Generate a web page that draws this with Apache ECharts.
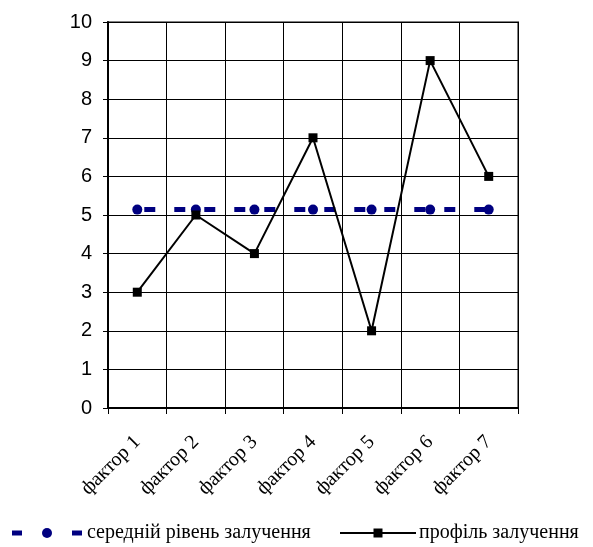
<!DOCTYPE html>
<html><head><meta charset="utf-8">
<script src="https://cdn.jsdelivr.net/npm/echarts@6/dist/echarts.min.js"></script>
<style>html,body{margin:0;padding:0;background:#fff}#c{width:593px;height:547px}</style>
</head><body><div id="c"></div>
<script>
const categories = ['фактор 1','фактор 2','фактор 3','фактор 4','фактор 5','фактор 6','фактор 7'];
const profile = [3,5,4,7,2,9,6];
const average = [5.14,5.14,5.14,5.14,5.14,5.14,5.14];
const yTicks = [0,1,2,3,4,5,6,7,8,9,10];
const seriesNames = ['середній рівень залучення','профіль залучення'];

const NAVY = '#000080';
const SERIF = "'Liberation Serif', 'Times New Roman', 'DejaVu Serif', serif";
const LY = 533;
const chart = echarts.init(document.getElementById('c'), null, {renderer:'canvas'});
chart.setOption({
  animation:false,
  backgroundColor:'#fff',
  grid:{left:108,right:75,top:22,bottom:139,show:true,borderColor:'#808080',borderWidth:2,backgroundColor:'transparent'},
  xAxis:{type:'category',data:categories,boundaryGap:true,
    axisLine:{lineStyle:{color:'#000',width:2}},
    axisTick:{show:true,length:6,inside:false,lineStyle:{color:'#000'}},
    splitLine:{show:true,lineStyle:{color:'#000',width:1}},
    axisLabel:{rotate:45,margin:31,fontFamily:SERIF,fontSize:20,color:'#000'}},
  yAxis:{type:'value',min:yTicks[0],max:yTicks[yTicks.length-1],interval:1,
    axisLine:{show:true,lineStyle:{color:'#000',width:2}},
    axisTick:{show:true,length:5,lineStyle:{color:'#000'}},
    splitLine:{show:true,lineStyle:{color:'#000',width:1}},
    axisLabel:{margin:16,fontFamily:"'Liberation Sans', Arial, sans-serif",fontSize:20,color:'#000'}},
  graphic:[
    {type:'rect',shape:{x:12,y:LY-2.5,width:10,height:5},style:{fill:NAVY}},
    {type:'circle',shape:{cx:47,cy:LY,r:5},style:{fill:NAVY}},
    {type:'rect',shape:{x:72,y:LY-2.5,width:10,height:5},style:{fill:NAVY}},
    {type:'text',x:87,y:LY,style:{text:seriesNames[0],fontFamily:SERIF,fontSize:20,fill:'#000',verticalAlign:'middle',align:'left'}},
    {type:'line',shape:{x1:340,y1:LY,x2:416,y2:LY},style:{stroke:'#000',lineWidth:2}},
    {type:'rect',shape:{x:373.5,y:LY-4.5,width:9,height:9},style:{fill:'#000'}},
    {type:'text',x:419,y:LY,style:{text:seriesNames[1],fontFamily:SERIF,fontSize:20,fill:'#000',verticalAlign:'middle',align:'left'}}
  ],
  series:[
    {name:seriesNames[0],type:'line',data:average,symbol:'circle',symbolSize:10,
      lineStyle:{color:NAVY,width:5,type:[11,19],dashOffset:23},itemStyle:{color:NAVY},z:3},
    {name:seriesNames[1],type:'line',data:profile,symbol:'rect',symbolSize:9,
      lineStyle:{color:'#000',width:2},itemStyle:{color:'#000'},z:4}
  ]
});
</script></body></html>
